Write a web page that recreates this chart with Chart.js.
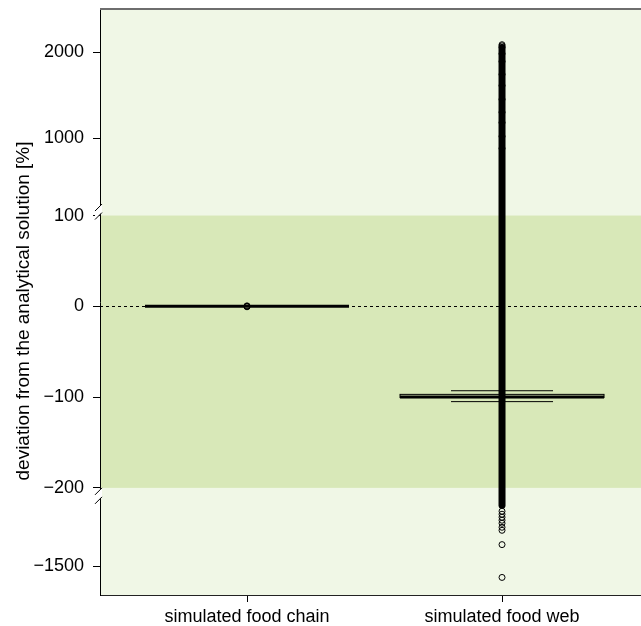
<!DOCTYPE html>
<html>
<head>
<meta charset="utf-8">
<script src="https://cdn.jsdelivr.net/npm/chart.js@4/dist/chart.umd.min.js"></script>
<style>
  html, body { margin: 0; padding: 0; background: #fff; overflow: hidden; }
  #wrap { width: 641px; height: 626px; }
</style>
</head>
<body>
<div id="wrap"><canvas id="chart" width="641" height="626"></canvas></div>
<script>
// categories and box statistics (deviation in %)
const categories = ['simulated food chain', 'simulated food web'];
const whiskerLow = [0, -105];
const lowerQuartile = [0, -100.5];
const medians = [0, -100];
const upperQuartile = [0, -97];
const whiskerHigh = [0, -93];

// range where the outlier circles of the food web overlap into a solid band
const denseOutliers = [null, [-488, 2050]];

// single outliers
const outliersChain = [0.5, 0, -0.5];
const outliersWeb = [2085, 2072, 2055, 1980, 1890, 1740, 1610, 1450, 1300, 1180, 1020, 880,
  -588, -638, -688, -738, -788, -855, -905, -1143, -1688];

// axis: ticks, breaks and visible range
const yTickValues = [2000, 1000, 100, 0, -100, -200, -1500];
const axisBreaks = [100, -200];
const yLimits = [-1980, 2500];
const yTitle = 'deviation from the analytical solution [%]';

// the part outside the breaks is squeezed
const TOP_RATIO = 0.0948;
const BOTTOM_RATIO = 0.0663;

function toAxis(v) {
    if (v > axisBreaks[0]) return axisBreaks[0] + (v - axisBreaks[0]) * TOP_RATIO;
    if (v < axisBreaks[1]) return axisBreaks[1] + (v - axisBreaks[1]) * BOTTOM_RATIO;
    return v;
}

function fromAxis(a) {
    if (a > axisBreaks[0]) return axisBreaks[0] + (a - axisBreaks[0]) / TOP_RATIO;
    if (a < axisBreaks[1]) return axisBreaks[1] + (a - axisBreaks[1]) / BOTTOM_RATIO;
    return a;
}

function fmt(v) {
    v = Math.round(v);
    return v < 0 ? '\u2212' + Math.abs(v) : String(v);
}

const FAMILY = '"Liberation Sans", Arial, Helvetica, sans-serif';
const FONT = { family: FAMILY, size: 18 };

// background bands, zero line, boxes, frame and axis breaks
const boxPlugin = {
    id: 'boxes',
    beforeDraw(chart) {
        const { ctx, chartArea: a, scales: { y } } = chart;
        const yHi = y.getPixelForValue(toAxis(axisBreaks[0]));
        const yLo = y.getPixelForValue(toAxis(axisBreaks[1]));
        ctx.save();
        ctx.fillStyle = '#f0f7e6';
        ctx.fillRect(a.left, a.top, a.right - a.left, a.bottom - a.top);
        ctx.fillStyle = '#d8e8b8';
        ctx.fillRect(a.left, yHi, a.right - a.left, yLo - yHi);
        ctx.restore();
    },
    beforeDatasetsDraw(chart) {
        const { ctx, chartArea: a, scales: { x, y } } = chart;
        ctx.save();
        // dashed line at zero
        const y0 = Math.round(y.getPixelForValue(0)) + 0.5;
        ctx.strokeStyle = '#000';
        ctx.lineWidth = 1;
        ctx.setLineDash([3, 3]);
        ctx.beginPath();
        ctx.moveTo(a.left, y0);
        ctx.lineTo(a.right, y0);
        ctx.stroke();

        categories.forEach((c, i) => {
            const cx = x.getPixelForValue(i + 1);
            const bx0 = x.getPixelForValue(i + 1 - 0.4);
            const bx1 = x.getPixelForValue(i + 1 + 0.4);
            const sx0 = x.getPixelForValue(i + 1 - 0.2);
            const sx1 = x.getPixelForValue(i + 1 + 0.2);
            const py = v => y.getPixelForValue(toAxis(v));

            // dense outlier band
            if (denseOutliers[i]) {
                ctx.setLineDash([]);
                ctx.lineWidth = 7;
                ctx.lineCap = 'round';
                ctx.beginPath();
                ctx.moveTo(cx, py(denseOutliers[i][0]));
                ctx.lineTo(cx, py(denseOutliers[i][1]));
                ctx.stroke();
                ctx.lineCap = 'butt';
            }

            // whiskers
            ctx.lineWidth = 1;
            ctx.setLineDash([4, 4]);
            ctx.beginPath();
            ctx.moveTo(cx, py(upperQuartile[i]));
            ctx.lineTo(cx, py(whiskerHigh[i]));
            ctx.moveTo(cx, py(lowerQuartile[i]));
            ctx.lineTo(cx, py(whiskerLow[i]));
            ctx.stroke();
            ctx.setLineDash([]);

            // staples
            ctx.beginPath();
            ctx.moveTo(sx0, py(whiskerHigh[i]));
            ctx.lineTo(sx1, py(whiskerHigh[i]));
            ctx.moveTo(sx0, py(whiskerLow[i]));
            ctx.lineTo(sx1, py(whiskerLow[i]));
            ctx.stroke();

            // box
            ctx.strokeRect(bx0, py(upperQuartile[i]), bx1 - bx0, py(lowerQuartile[i]) - py(upperQuartile[i]));

            // median
            ctx.lineWidth = 3;
            ctx.beginPath();
            ctx.moveTo(bx0, py(medians[i]));
            ctx.lineTo(bx1, py(medians[i]));
            ctx.stroke();
        });
        ctx.restore();
    },
    afterDraw(chart) {
        const { ctx, chartArea: a, scales: { y } } = chart;
        ctx.save();
        // frame line at the top
        ctx.strokeStyle = '#6e6e6e';
        ctx.lineWidth = 2;
        ctx.beginPath();
        ctx.moveTo(a.left, a.top);
        ctx.lineTo(a.right, a.top);
        ctx.stroke();

        // break marks on the y axis
        const marks = [
            { value: axisBreaks[0], offsets: [-8.5, 0] },
            { value: axisBreaks[1], offsets: [3, 12] }
        ];
        marks.forEach(m => {
            const by = y.getPixelForValue(toAxis(m.value));
            const y1 = by + m.offsets[0];
            const y2 = by + m.offsets[1];
            const lx = a.left;
            ctx.fillStyle = '#fff';
            ctx.beginPath();
            ctx.moveTo(lx - 5, y1 + 4);
            ctx.lineTo(lx + 2, y1 - 3);
            ctx.lineTo(lx + 2, y2 - 3);
            ctx.lineTo(lx - 5, y2 + 4);
            ctx.closePath();
            ctx.fill();
            ctx.strokeStyle = '#000';
            ctx.lineWidth = 1;
            ctx.beginPath();
            ctx.moveTo(lx - 5, y1 + 4);
            ctx.lineTo(lx + 2, y1 - 3);
            ctx.moveTo(lx - 5, y2 + 4);
            ctx.lineTo(lx + 2, y2 - 3);
            ctx.stroke();
        });

        // y axis title
        ctx.translate(24, (a.top + a.bottom) / 2 + 9);
        ctx.rotate(-Math.PI / 2);
        ctx.font = '19px ' + FAMILY;
        ctx.fillStyle = '#000';
        ctx.textAlign = 'center';
        ctx.textBaseline = 'middle';
        ctx.fillText(yTitle, 0, 0);
        ctx.restore();
    }
};

const pointData = [];
outliersChain.forEach(v => pointData.push({ x: 1, y: toAxis(v) }));
outliersWeb.forEach(v => pointData.push({ x: 2, y: toAxis(v) }));

new Chart(document.getElementById('chart'), {
    type: 'scatter',
    data: {
        datasets: [{
            label: 'outliers',
            data: pointData,
            pointRadius: 3,
            pointBorderWidth: 1,
            pointBorderColor: '#000',
            pointBackgroundColor: 'rgba(0,0,0,0)',
            showLine: false
        }]
    },
    options: {
        responsive: false,
        animation: false,
        devicePixelRatio: 1,
        layout: { autoPadding: false, padding: { top: 9, right: 0, bottom: 0, left: 0 } },
        plugins: { legend: { display: false }, tooltip: { enabled: false } },
        scales: {
            x: {
                type: 'linear',
                min: 0.4235,
                max: 2.545,
                afterBuildTicks: s => { s.ticks = categories.map((c, i) => ({ value: i + 1 })); },
                afterFit: s => { s.height = 31; s.paddingLeft = 0; s.paddingRight = 0; },
                grid: { drawOnChartArea: false, drawTicks: true, tickLength: 7, color: '#000' },
                border: { display: true, color: '#222', width: 1 },
                ticks: {
                    autoSkip: false,
                    maxRotation: 0,
                    padding: 4,
                    color: '#000',
                    font: FONT,
                    callback: v => categories[Math.round(v) - 1]
                }
            },
            y: {
                type: 'linear',
                min: toAxis(yLimits[0]),
                max: toAxis(yLimits[1]),
                afterBuildTicks: s => { s.ticks = yTickValues.map(v => ({ value: toAxis(v) })); },
                afterFit: s => { s.width = 100; s.paddingTop = 0; s.paddingBottom = 0; },
                grid: { drawOnChartArea: false, drawTicks: true, tickLength: 7, color: '#000' },
                border: { display: true, color: '#000', width: 1 },
                ticks: {
                    autoSkip: false,
                    padding: 9,
                    color: '#000',
                    font: FONT,
                    callback: v => fmt(fromAxis(v))
                }
            }
        }
    },
    plugins: [boxPlugin]
});
</script>
</body>
</html>
